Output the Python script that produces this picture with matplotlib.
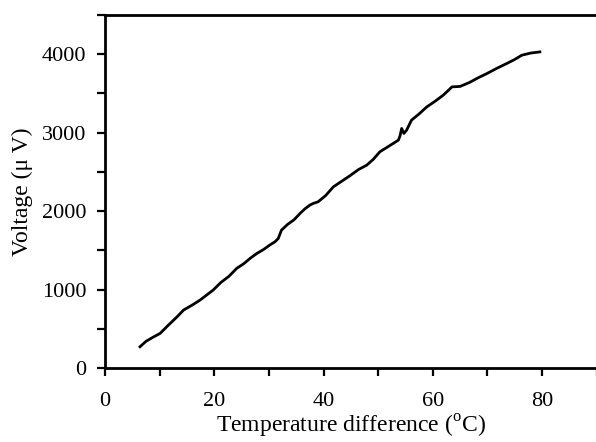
import matplotlib
matplotlib.use('Agg')
import matplotlib.pyplot as plt
from matplotlib.ticker import MultipleLocator

# Data
temp_diff = [6.4, 7.5, 8.6, 10.1, 11.5, 13.0, 14.4, 15.9, 17.4, 18.6, 19.8, 21.2,
             22.7, 24.1, 25.4, 26.6, 27.8, 29.0, 30.2, 31.1, 31.7, 32.3, 33.4,
             34.6, 35.7, 36.6, 37.5, 38.1, 39.0, 40.4, 41.8, 43.3, 44.8, 46.4,
             47.9, 49.1, 50.3, 52.0, 53.7, 54.0, 54.3, 54.7, 55.2, 56.1, 57.5,
             58.9, 60.4, 61.9, 62.7, 63.5, 65.0, 66.7, 68.3, 69.9, 71.7, 73.5,
             74.9, 76.3, 77.9, 79.6]
voltage = [271, 340, 385, 442, 540, 640, 740, 800, 866, 930, 994, 1090,
           1170, 1270, 1330, 1400, 1461, 1510, 1570, 1609, 1650, 1758, 1830,
           1890, 1971, 2030, 2077, 2098, 2119, 2200, 2310, 2380, 2450, 2530,
           2586, 2660, 2756, 2830, 2905, 2960, 3054, 2990, 3032, 3160, 3240,
           3329, 3400, 3478, 3530, 3584, 3590, 3640, 3700, 3754, 3820, 3881,
           3930, 3988, 4015, 4030]

x_ticks = [0, 20, 40, 60, 80]
y_ticks = [0, 1000, 2000, 3000, 4000]

plt.rcParams['font.family'] = ['Liberation Serif', 'DejaVu Serif']
plt.rcParams['mathtext.fontset'] = 'custom'
plt.rcParams['mathtext.rm'] = 'Liberation Serif'

fig = plt.figure(figsize=(5.96, 4.42), dpi=100)
ax = fig.add_axes([0.1762, 0.1674, 0.825, 0.7986])

ax.plot(temp_diff, voltage, color='black', linewidth=2.0)

ax.set_xlim(0, 90)
ax.set_ylim(0, 4500)
ax.set_xticks(x_ticks)
ax.set_yticks(y_ticks)
ax.xaxis.set_minor_locator(MultipleLocator(10))
ax.yaxis.set_minor_locator(MultipleLocator(500))
ax.tick_params(which='both', direction='out', length=5.5, width=1.6,
               labelsize=16, color='black')
ax.tick_params(axis='x', pad=12)
ax.tick_params(axis='y', pad=8)

for side in ['left', 'bottom', 'top']:
    ax.spines[side].set_linewidth(2.0)
ax.spines['right'].set_bounds(0, 1780)
ax.spines['right'].set_color('#666666')
ax.spines['right'].set_linewidth(1.0)

ax.set_xlabel('Temperature difference ($^{\\mathrm{o}}$C)', fontsize=17, labelpad=1)
ax.set_ylabel('Voltage (\u03bc V)', fontsize=17, labelpad=6)

fig.savefig('out.png', dpi=100)
